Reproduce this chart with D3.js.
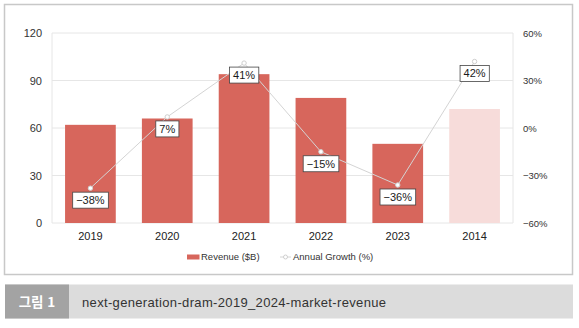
<!DOCTYPE html>
<html lang="ko">
<head>
<meta charset="UTF-8">
<title>next-generation-dram-2019_2024-market-revenue</title>
<script src="https://d3js.org/d3.v7.min.js"></script>
<style>
  body { margin: 0; background: #fff; }
  svg { display: block; font-family: "Liberation Sans", Arial, sans-serif; }
</style>
</head>
<body>
<svg id="chart" width="579" height="328"></svg>
<script>
// chart data
const years = ["2019", "2020", "2021", "2022", "2023", "2014"];
const revenue = [62, 66, 94, 79, 50, 72];
const growth = [-38, 7, 41, -15, -36, 42];
const revenueTicks = [0, 30, 60, 90, 120];
const growthTicks = [-60, -30, 0, 30, 60];
const captionTag = "그림 1";
const captionText = "next-generation-dram-2019_2024-market-revenue";

const svg = d3.select("#chart");
const plot = { left: 52, right: 513, top: 33, bottom: 223 };

// outer frame
svg.append("rect")
  .attr("x", 4.5).attr("y", 4.5)
  .attr("width", 568).attr("height", 270)
  .attr("fill", "#fff").attr("stroke", "#c8c8c8").attr("stroke-width", 1.5);

const x = d3.scaleBand().domain(years).range([plot.left, plot.right])
  .paddingInner(0.34).paddingOuter(0.17);
const yL = d3.scaleLinear().domain([0, 120]).range([plot.bottom, plot.top]);
const yR = d3.scaleLinear().domain([-60, 60]).range([plot.bottom, plot.top]);

// horizontal grid
svg.append("g").selectAll("line").data(revenueTicks).join("line")
  .attr("x1", plot.left).attr("x2", plot.right)
  .attr("y1", d => yL(d)).attr("y2", d => yL(d))
  .attr("stroke", "#e6e6e6").attr("stroke-width", 1);

// side rules
[plot.left, plot.right].forEach(px => {
  svg.append("line")
    .attr("x1", px).attr("x2", px).attr("y1", plot.top).attr("y2", plot.bottom)
    .attr("stroke", "#e6e6e6");
});

// left axis
const axL = svg.append("g")
  .attr("transform", `translate(${plot.left},0)`)
  .call(d3.axisLeft(yL).tickValues(revenueTicks).tickSize(0).tickPadding(10));
axL.select(".domain").remove();
axL.selectAll("text").attr("font-size", 11).attr("fill", "#333")
  .style("font-family", "'Liberation Sans', Arial, sans-serif");

// right axis
const axR = svg.append("g")
  .attr("transform", `translate(${plot.right},0)`)
  .call(d3.axisRight(yR).tickValues(growthTicks).tickSize(0).tickPadding(10)
    .tickFormat(d => (d < 0 ? "\u2212" + Math.abs(d) : d) + "%"));
axR.select(".domain").remove();
axR.selectAll("text").attr("font-size", 9.5).attr("fill", "#333")
  .style("font-family", "'Liberation Sans', Arial, sans-serif");

// bottom axis
const axB = svg.append("g")
  .attr("transform", `translate(0,${plot.bottom})`)
  .call(d3.axisBottom(x).tickSize(0).tickPadding(9));
axB.select(".domain").remove();
axB.selectAll("text").attr("font-size", 11).attr("fill", "#222")
  .style("font-family", "'Liberation Sans', Arial, sans-serif");

// revenue bars (last year drawn light)
svg.append("g").selectAll("rect").data(years).join("rect")
  .attr("x", d => x(d))
  .attr("width", x.bandwidth())
  .attr("y", (d, i) => yL(revenue[i]))
  .attr("height", (d, i) => yL(0) - yL(revenue[i]))
  .attr("fill", (d, i) => i === years.length - 1 ? "#f7dcda" : "#d7665c");

// growth line
const cx = d => x(d) + x.bandwidth() / 2;
const line = d3.line().x(d => cx(d)).y((d, i) => yR(growth[i]));
svg.append("path").datum(years)
  .attr("d", line)
  .attr("fill", "none").attr("stroke", "#d4d4d4").attr("stroke-width", 1);

svg.append("g").selectAll("circle").data(years).join("circle")
  .attr("cx", d => cx(d)).attr("cy", (d, i) => yR(growth[i]))
  .attr("r", 2.2)
  .attr("fill", "#fff").attr("stroke", "#cfcfcf").attr("stroke-width", 1);

// value labels in boxes
const fmt = v => (v < 0 ? "\u2212" + Math.abs(v) : v) + "%";
const labels = svg.append("g").selectAll("g").data(years).join("g")
  .attr("transform", (d, i) => `translate(${cx(d)},${yR(growth[i]) + 12})`);
labels.append("text")
  .attr("text-anchor", "middle").attr("dy", "0.36em")
  .attr("font-size", 11).attr("fill", "#1a1a1a")
  .text((d, i) => fmt(growth[i]));
labels.each(function () {
  const g = d3.select(this);
  const bb = g.select("text").node().getBBox();
  g.insert("rect", "text")
    .attr("x", bb.x - 3.5).attr("y", -8)
    .attr("width", bb.width + 7).attr("height", 16)
    .attr("fill", "#fff").attr("stroke", "#444").attr("stroke-width", 0.8);
});

// legend
const lg = svg.append("g").attr("transform", "translate(0,257)");
lg.append("rect").attr("x", 187).attr("y", -2.5).attr("width", 12.5).attr("height", 5).attr("fill", "#d7665c");
lg.append("text").attr("x", 201).attr("dy", "0.35em").attr("font-size", 9.5).attr("fill", "#333").text("Revenue ($B)");
lg.append("line").attr("x1", 280).attr("x2", 291).attr("y1", 0).attr("y2", 0).attr("stroke", "#d4d4d4");
lg.append("circle").attr("cx", 285.5).attr("cy", 0).attr("r", 2).attr("fill", "#fff").attr("stroke", "#cfcfcf");
lg.append("text").attr("x", 293).attr("dy", "0.35em").attr("font-size", 9.5).attr("fill", "#333").text("Annual Growth (%)");

// caption bar
svg.append("rect").attr("x", 5).attr("y", 284.5).attr("width", 568).attr("height", 34).attr("fill", "#dcdcdc");
svg.append("rect").attr("x", 5).attr("y", 284.5).attr("width", 64).attr("height", 34).attr("fill", "#a3a3a3");
svg.append("text").attr("x", 37).attr("y", 302).attr("dy", "0.35em")
  .attr("text-anchor", "middle").attr("font-size", 13.5).attr("font-weight", "bold")
  .attr("fill", "#fff").style("font-family", "'Noto Sans CJK KR', sans-serif")
  .text(captionTag);
svg.append("text").attr("x", 82).attr("y", 302).attr("dy", "0.35em")
  .attr("font-size", 13).attr("fill", "#333")
  .attr("textLength", 304).attr("lengthAdjust", "spacing")
  .text(captionText);
</script>
</body>
</html>
